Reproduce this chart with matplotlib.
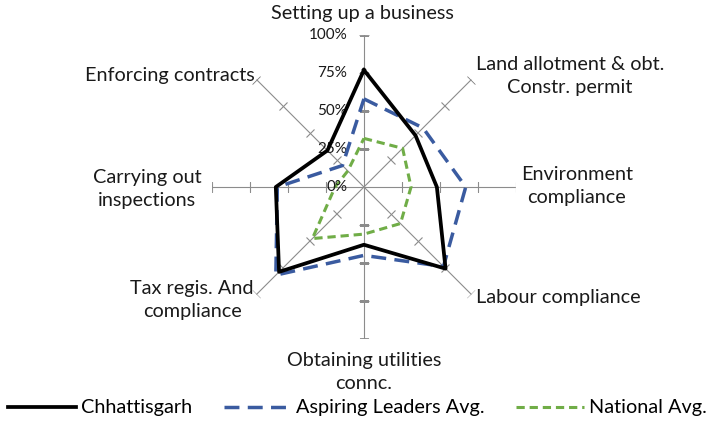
import numpy as np
import matplotlib
matplotlib.use('Agg')
import matplotlib.pyplot as plt
from matplotlib.markers import MarkerStyle
from matplotlib.transforms import Affine2D

plt.rcParams['font.family'] = ['Lato', 'DejaVu Sans']

categories = ['Setting up a business', 'Land allotment & obt.\nConstr. permit',
              'Environment\ncompliance', 'Labour compliance',
              'Obtaining utilities\nconnc.', 'Tax regis. And\ncompliance',
              'Carrying out\ninspections', 'Enforcing contracts']
chhattisgarh = [0.77, 0.48, 0.48, 0.76, 0.38, 0.79, 0.58, 0.34]
aspiring = [0.58, 0.55, 0.67, 0.74, 0.45, 0.82, 0.57, 0.20]
national = [0.32, 0.36, 0.31, 0.34, 0.31, 0.48, 0.19, 0.15]
tick_values = [0.25, 0.5, 0.75, 1.0]
tick_labels = ['0%', '25%', '50%', '75%', '100%']

fig = plt.figure(figsize=(7.15, 4.21), dpi=100)
ax = fig.add_axes([0.2965, 0.1948, 0.425, 0.722], projection='polar')
ax.set_theta_zero_location('N')
ax.set_theta_direction(-1)
ax.set_ylim(0, 1)
ax.grid(False)
ax.spines['polar'].set_visible(False)
ax.set_xticks([])
ax.set_yticks([])
ax.patch.set_visible(False)

n = len(categories)
angles = np.arange(n) * 2 * np.pi / n

# spokes with small cross ticks
for i, a in enumerate(angles):
    ax.plot([a, a], [0, 1], color='#8c8c8c', lw=0.8, zorder=1)
    rot = (90 - 45 * i) + 90
    m = MarkerStyle('_', transform=Affine2D().rotate_deg(rot))
    ax.plot([a] * len(tick_values), tick_values, linestyle='none', marker=m,
            markersize=7.5, markeredgewidth=0.8, color='#8c8c8c', zorder=1)

# percent labels along the top spoke
for v, lab in zip([0] + tick_values, tick_labels):
    ax.annotate(lab, xy=(0, v), xytext=(-12, 0), textcoords='offset points',
                ha='right', va='center', fontsize=11, color='#1a1a1a')

closed = lambda vals: list(vals) + [vals[0]]
ang_c = list(angles) + [angles[0]]
l1, = ax.plot(ang_c, closed(chhattisgarh), color='black', lw=2.7, zorder=4,
              label='Chhattisgarh')
l2, = ax.plot(ang_c, closed(aspiring), color='#3a5ba0', lw=2.5, zorder=3,
              dashes=(4.3, 2.4), label='Aspiring Leaders Avg.')
l3, = ax.plot(ang_c, closed(national), color='#70ad47', lw=2.2, zorder=2,
              dashes=(2.7, 1.6), label='National Avg.')

# category labels (pixel centres from figure top-left)
label_pos = [(362, 14), (570, 76), (577, 186), (558, 298),
             (364, 372), (192, 300), (147, 189), (170, 76)]
for txt, (px, py) in zip(categories, label_pos):
    fig.text(px / 715, 1 - py / 421, txt, ha='center', va='center',
             fontsize=14.3, color='#1a1a1a', multialignment='center',
             linespacing=1.4)

fig.legend(handles=[l1, l2, l3], loc='center', bbox_to_anchor=(0.5, 1 - 408 / 421),
           ncol=3, frameon=False, fontsize=14.3, handlelength=3.4,
           columnspacing=1.6, handletextpad=0.25, borderaxespad=0)

fig.savefig('out.png', dpi=100)
